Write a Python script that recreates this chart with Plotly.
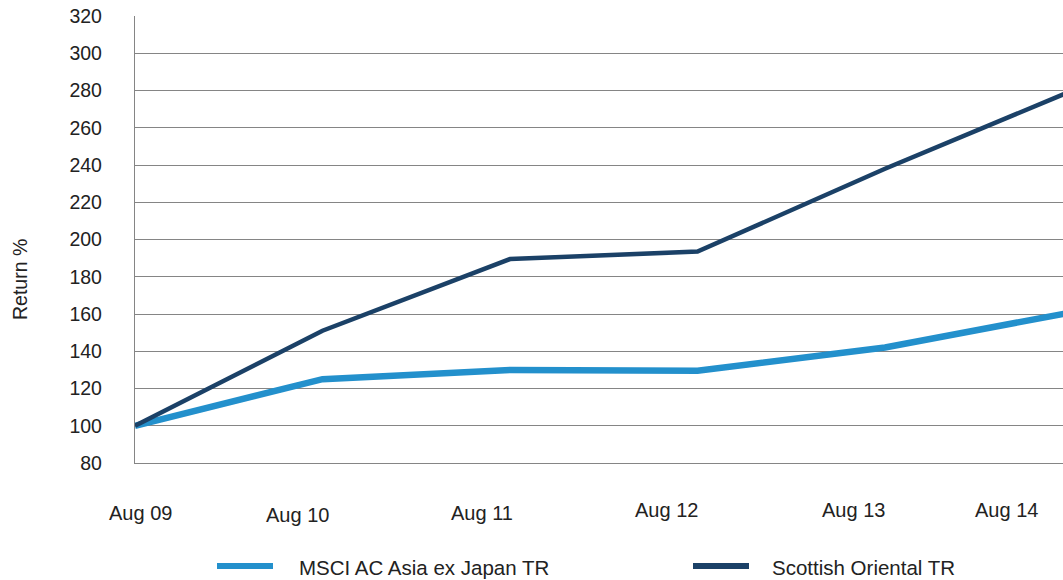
import plotly.graph_objects as go

# ---- data ----
periods = ["Aug 09", "Aug 10", "Aug 11", "Aug 12", "Aug 13", "Aug 14"]
msci = [100, 125, 130, 129.5, 142, 161]
scottish = [100, 151, 189.5, 193.5, 238, 280]
series_names = ["MSCI AC Asia ex Japan TR", "Scottish Oriental TR"]
y_ticks = list(range(80, 321, 20))

# ---- layout constants ----
W, H = 1063, 580
ML, MR, MT, MB = 135, 0, 16, 117
PW, PH = W - ML - MR, H - MT - MB
C_MSCI = "#2390cc"
C_SCOT = "#1b4167"
TXT = "#222222"
FONT = "Liberation Sans, Arial, sans-serif"
GRID = "#858585"


def px(x):
    return (x - ML) / PW


def py(y):
    return (H - MB - y) / PH


xs = list(range(len(periods)))

fig = go.Figure()
fig.add_trace(go.Scatter(x=xs, y=msci, mode="lines", name=series_names[0],
                         line=dict(color=C_MSCI, width=6.5), showlegend=False))
fig.add_trace(go.Scatter(x=xs, y=scottish, mode="lines", name=series_names[1],
                         line=dict(color=C_SCOT, width=4.5), showlegend=False))

# x tick labels (staggered, as in the source)
label_pos = [(140, 513), (297, 515), (482, 513), (666, 510), (853, 510), (1006, 510)]
annotations = []
for lab, (lx, ly) in zip(periods, label_pos):
    annotations.append(dict(text=lab, xref="paper", yref="paper", x=px(lx), y=py(ly),
                            xanchor="center", yanchor="middle", showarrow=False,
                            font=dict(size=20, color=TXT, family=FONT)))

# y title
annotations.append(dict(text="Return %", xref="paper", yref="paper", x=px(20), y=py(280),
                        xanchor="center", yanchor="middle", textangle=-90, showarrow=False,
                        font=dict(size=19.5, color=TXT, family=FONT)))

# custom legend
shapes = []
legend_items = [(series_names[0], C_MSCI, 217, 273, 297),
                (series_names[1], C_SCOT, 693, 749, 770)]
for name, col, x0, x1, tx in legend_items:
    shapes.append(dict(type="line", xref="paper", yref="paper", x0=px(x0), x1=px(x1),
                       y0=py(566), y1=py(566), line=dict(color=col, width=6)))
    annotations.append(dict(text=name, xref="paper", yref="paper", x=px(tx), y=py(567),
                            xanchor="left", yanchor="middle", showarrow=False,
                            font=dict(size=20.5, color=TXT, family=FONT)))

fig.update_layout(
    width=W, height=H,
    margin=dict(l=ML, r=MR, t=MT, b=MB, pad=0),
    paper_bgcolor="white", plot_bgcolor="white",
    showlegend=False,
    annotations=annotations,
    shapes=shapes,
    xaxis=dict(range=[0, (W - MR - ML) / 187.5], showgrid=False, zeroline=False,
               showticklabels=False, showline=True, linecolor=GRID, linewidth=1.3,
               fixedrange=True),
    yaxis=dict(range=[80, 320], tickvals=y_ticks, showgrid=True, gridcolor=GRID,
               gridwidth=1.3, zeroline=False, showline=True, linecolor=GRID, linewidth=1.3,
               ticks="", ticklabelstandoff=28,
               tickfont=dict(size=19.5, color=TXT, family=FONT), fixedrange=True),
)

fig.write_html("out.html", config={"displayModeBar": False},
               post_script="document.body.style.margin='0';document.body.style.overflow='hidden';")
